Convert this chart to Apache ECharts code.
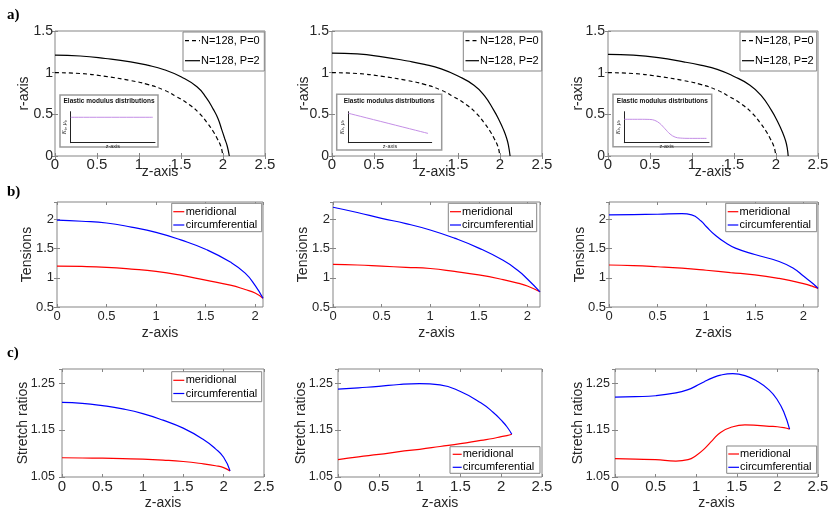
<!DOCTYPE html>
<html><head><meta charset="utf-8">
<script src="https://cdn.jsdelivr.net/npm/echarts@6/dist/echarts.min.js"></script>
<style>html,body{margin:0;padding:0;background:#fff}#c{width:830px;height:516px}</style>
</head><body><div id="c"></div>
<script>
// ---------- data ----------
// Row a: shapes r(z)
const zP0 = [0,0.3,0.6,0.9,1.1,1.3,1.45,1.6,1.72,1.81,1.88,1.93,1.965,1.985,1.997];
const rP0 = [1.0,0.99,0.955,0.905,0.86,0.79,0.71,0.615,0.51,0.40,0.30,0.21,0.14,0.08,0];
const zA1 = [0,0.3,0.6,0.9,1.1,1.3,1.5,1.69,1.8,1.885,1.94,1.984,2.02,2.05,2.075];
const rA1 = [1.21,1.20,1.17,1.13,1.09,1.035,0.95,0.83,0.70,0.56,0.45,0.32,0.21,0.12,0];
const zA2 = [0,0.3,0.6,0.9,1.1,1.3,1.5,1.69,1.81,1.925,1.99,2.044,2.08,2.10,2.12];
const rA2 = [1.235,1.225,1.19,1.14,1.10,1.045,0.96,0.85,0.73,0.55,0.43,0.31,0.21,0.13,0];
const zA3 = [0,0.3,0.6,0.9,1.1,1.3,1.5,1.69,1.82,1.944,2.02,2.083,2.115,2.133,2.145];
const rA3 = [1.22,1.21,1.18,1.13,1.09,1.04,0.955,0.85,0.73,0.55,0.41,0.27,0.18,0.10,0];
// Insets: elastic modulus distributions (normalised)
const inZ1 = [0,0.973];
const inK1 = [0.82,0.82];
const inZ2 = [0,0.956];
const inK2 = [0.95,0.30];
const inZ3 = [0,0.185,0.30,0.36,0.42,0.48,0.54,0.60,0.66,0.77,0.97];
const inK3 = [0.755,0.755,0.75,0.72,0.62,0.45,0.28,0.18,0.15,0.14,0.14];
// Row b: tensions
const zB1 = [0,0.25,0.5,0.75,1.0,1.25,1.5,1.75,1.9,2.0,2.08];
const circB1 = [1.99,1.97,1.94,1.87,1.78,1.65,1.49,1.27,1.08,0.87,0.65];
const merB1 = [1.20,1.195,1.18,1.15,1.11,1.045,0.96,0.875,0.80,0.74,0.65];
const zB2 = [0,0.25,0.5,0.75,1.0,1.25,1.5,1.75,1.9,2.0,2.13];
const circB2 = [2.21,2.12,2.02,1.93,1.82,1.68,1.51,1.30,1.13,0.98,0.76];
const merB2 = [1.23,1.22,1.20,1.18,1.16,1.11,1.05,0.97,0.91,0.86,0.76];
const zB3c = [0,0.25,0.5,0.75,0.85,0.95,1.0,1.1,1.2,1.3,1.5,1.75,1.9,2.0,2.1,2.15];
const circB3 = [2.08,2.085,2.09,2.10,2.08,1.97,1.88,1.72,1.60,1.51,1.40,1.28,1.16,1.03,0.90,0.82];
const zB3m = [0,0.25,0.5,0.75,1.0,1.25,1.5,1.75,1.9,2.0,2.1,2.15];
const merB3 = [1.22,1.21,1.19,1.165,1.13,1.09,1.05,0.99,0.94,0.90,0.85,0.82];
// Row c: stretch ratios
const zC1 = [0,0.25,0.5,0.75,1.0,1.25,1.5,1.75,1.9,2.0,2.08];
const circC1 = [1.209,1.207,1.202,1.195,1.185,1.171,1.154,1.130,1.110,1.092,1.063];
const merC1 = [1.091,1.0905,1.090,1.089,1.088,1.086,1.083,1.078,1.074,1.070,1.063];
const zC2 = [0,0.25,0.5,0.75,1.0,1.25,1.5,1.75,1.9,2.0,2.07,2.13];
const circC2 = [1.237,1.240,1.243,1.247,1.2487,1.246,1.232,1.208,1.188,1.171,1.157,1.141];
const merC2 = [1.087,1.093,1.098,1.104,1.109,1.115,1.121,1.128,1.132,1.136,1.138,1.141];
const zC3 = [0,0.25,0.5,0.75,0.9,1.0,1.1,1.2,1.3,1.45,1.6,1.75,1.9,2.0,2.08,2.15];
const circC3 = [1.220,1.221,1.223,1.229,1.236,1.244,1.253,1.261,1.267,1.270,1.266,1.254,1.235,1.214,1.188,1.152];
const merC3 = [1.089,1.088,1.087,1.084,1.087,1.096,1.11,1.128,1.145,1.157,1.161,1.160,1.158,1.157,1.155,1.152];

const legendA = ['N=128, P=0','N=128, P=2'];
const legendBC = ['meridional','circumferential'];
const yNames = ['r-axis','Tensions','Stretch ratios'];

// ---------- build ----------
const FONT = '"Liberation Sans", Arial, Helvetica, sans-serif';
const TXT = '#262626', AX = '#858585';
const zip = (a,b)=>a.map((v,i)=>[v,b[i]]);
const fmt = v => String(Math.round(v*100)/100);

const panels = [
  {l:55,t:31,w:210,h:125,xmax:2.5,ymin:0,ymax:1.5,yi:0.5,row:0,xf:15,yf:14,xm:1,ym:2,xg:9,yg:24,
   leg:{box:[183,32,81.3,39],line:[185,200],tx:201,ys:[40.7,60.7]},
   series:[[legendA[0],zP0,rP0,'#000','dash'],[legendA[1],zA1,rA1,'#000','solid']]},
  {l:332,t:31,w:210,h:125,xmax:2.5,ymin:0,ymax:1.5,yi:0.5,row:0,xf:15,yf:14,xm:1,ym:3,xg:9,yg:21,
   leg:{box:[463.3,32,78.4,39],line:[465.5,479],tx:480,ys:[40.7,60.7]},
   series:[[legendA[0],zP0,rP0,'#000','dash'],[legendA[1],zA2,rA2,'#000','solid']]},
  {l:608,t:31,w:210,h:125,xmax:2.5,ymin:0,ymax:1.5,yi:0.5,row:0,xf:15,yf:14,xm:1,ym:3,xg:9,yg:22.5,
   leg:{box:[740,32,76.7,39],line:[742,754],tx:755,ys:[40.7,60.7]},
   series:[[legendA[0],zP0,rP0,'#000','dash'],[legendA[1],zA3,rA3,'#000','solid']]},
  {l:57,t:202,w:206,h:105,xmax:2.08,ymin:0.5,ymax:2.3,yi:0.5,row:1,xf:13,yf:13,xm:3,ym:3,xg:19,yg:23,
   leg:{box:[171.7,203.3,90,28.4],line:[173.3,184.3],tx:185.7,ys:[211.7,225]},
   series:[[legendBC[0],zB1,merB1,'#ff0000','solid'],[legendBC[1],zB1,circB1,'#0000ff','solid']]},
  {l:333,t:202,w:207,h:105,xmax:2.13,ymin:0.5,ymax:2.3,yi:0.5,row:1,xf:13,yf:13,xm:3,ym:3,xg:19,yg:23,
   leg:{box:[448.3,203.3,88.4,28.4],line:[450,461],tx:462,ys:[211.7,225]},
   series:[[legendBC[0],zB2,merB2,'#ff0000','solid'],[legendBC[1],zB2,circB2,'#0000ff','solid']]},
  {l:609,t:202,w:209,h:105,xmax:2.15,ymin:0.5,ymax:2.3,yi:0.5,row:1,xf:13,yf:13,xm:3,ym:3,xg:19,yg:22,
   leg:{box:[725.7,203.3,91,28.4],line:[727.7,738.3],tx:739.5,ys:[211.7,225]},
   series:[[legendBC[0],zB3m,merB3,'#ff0000','solid'],[legendBC[1],zB3c,circB3,'#0000ff','solid']]},
  {l:62,t:369,w:202,h:108,xmax:2.5,ymin:1.05,ymax:1.28,yi:0.1,row:2,xf:15,yf:12.5,xm:2,ym:7,xg:19,yg:31.5,
   leg:{box:[171.7,371.7,90,30],line:[173.3,184.3],tx:185.7,ys:[380.3,393.5]},
   series:[[legendBC[0],zC1,merC1,'#ff0000','solid'],[legendBC[1],zC1,circC1,'#0000ff','solid']]},
  {l:338,t:369,w:204,h:108,xmax:2.5,ymin:1.05,ymax:1.28,yi:0.1,row:2,xf:15,yf:12.5,xm:2,ym:5,xg:19,yg:30,
   leg:{box:[450,446.7,90,26.6],line:[452.7,461.7],tx:462.7,ys:[454.3,467.3]},
   series:[[legendBC[0],zC2,merC2,'#ff0000','solid'],[legendBC[1],zC2,circC2,'#0000ff','solid']]},
  {l:615,t:369,w:203,h:108,xmax:2.5,ymin:1.05,ymax:1.28,yi:0.1,row:2,xf:15,yf:12.5,xm:2,ym:5,xg:19,yg:29.7,
   leg:{box:[726.7,446,90,27.3],line:[728.3,739],tx:740,ys:[454,467.3]},
   series:[[legendBC[0],zC3,merC3,'#ff0000','solid'],[legendBC[1],zC3,circC3,'#0000ff','solid']]}
];

const grid=[], xAxis=[], yAxis=[], series=[], graphic=[];
const tick = {show:true,inside:true,length:3,lineStyle:{color:AX,width:1}};

panels.forEach((p,i)=>{
  grid.push({left:p.l,top:p.t,width:p.w,height:p.h,show:true,borderColor:AX,borderWidth:1,
             backgroundColor:'transparent',containLabel:false,outerBoundsMode:'none'});
  const xi = xAxis.length, yi = yAxis.length;
  const yOnTick = Math.abs(((p.ymax - p.ymin)/p.yi) - Math.round((p.ymax - p.ymin)/p.yi)) < 1e-6;
  xAxis.push({gridIndex:i,type:'value',min:0,max:p.xmax,interval:0.5,position:'bottom',
    axisLine:{show:false},axisTick:tick,splitLine:{show:false},
    axisLabel:{fontSize:p.xf,color:TXT,fontFamily:FONT,margin:p.xm,formatter:fmt,
               showMaxLabel:p.xmax===2.5,hideOverlap:false},
    name:'z-axis',nameLocation:'middle',nameGap:p.xg,nameMoveOverlap:false,
    nameTextStyle:{fontSize:14,color:TXT,fontFamily:FONT}});
  xAxis.push({gridIndex:i,type:'value',min:0,max:p.xmax,interval:0.5,position:'top',
    axisLine:{show:false},axisTick:tick,splitLine:{show:false},axisLabel:{show:false}});
  yAxis.push({gridIndex:i,type:'value',min:p.ymin,max:p.ymax,interval:p.yi,position:'left',
    axisLine:{show:false},axisTick:tick,splitLine:{show:false},
    axisLabel:{fontSize:p.yf,color:TXT,fontFamily:FONT,margin:p.ym,showMaxLabel:yOnTick,hideOverlap:false,
               formatter: p.row===2 ? (v=>v.toFixed(2)) : fmt},
    name:yNames[p.row],nameLocation:'middle',nameGap:p.yg,nameMoveOverlap:false,
    nameTextStyle:{fontSize:14,color:TXT,fontFamily:FONT}});
  yAxis.push({gridIndex:i,type:'value',min:p.ymin,max:p.ymax,interval:p.yi,position:'right',
    axisLine:{show:false},axisTick:tick,splitLine:{show:false},axisLabel:{show:false}});
  p.series.forEach(s=>{
    series.push({type:'line',name:s[0],xAxisIndex:xi,yAxisIndex:yi,data:zip(s[1],s[2]),
      symbol:'none',smooth:0.5,z:3,
      lineStyle:{color:s[3],width:1.2,type:s[4]==='dash'?[4,3]:'solid'},
      itemStyle:{color:s[3]}});
  });
  // legend drawn as graphic
  const L = p.leg;
  graphic.push({type:'rect',z:20,shape:{x:L.box[0],y:L.box[1],width:L.box[2],height:L.box[3]},
    style:{fill:'#fff',stroke:AX,lineWidth:1}});
  p.series.forEach((s,k)=>{
    graphic.push({type:'line',z:21,shape:{x1:L.line[0],y1:L.ys[k],x2:L.line[1],y2:L.ys[k]},
      style:{stroke:s[3],lineWidth:1.2,lineDash:s[4]==='dash'?[4,3]:null}});
    graphic.push({type:'text',z:21,x:L.tx,y:L.ys[k],
      style:{text:s[0],fontSize:11,fontFamily:FONT,fill:'#000',verticalAlign:'middle',align:'left'}});
  });
});

// insets
const insets = [
  {box:[60,95,98,52],g:[70.7,111.7,84.3,31],z:inZ1,k:inK1},
  {box:[336.7,94.3,105,55.7],g:[348.3,111.7,83.4,31],z:inZ2,k:inK2},
  {box:[613,94.3,98.7,52.4],g:[624.3,111.7,84.7,31],z:inZ3,k:inK3}
];
insets.forEach(s=>{
  const gi = grid.length;
  grid.push({left:s.g[0],top:s.g[1],width:s.g[2],height:s.g[3],show:false,containLabel:false,outerBoundsMode:'none'});
  const xi = xAxis.length, yi = yAxis.length;
  xAxis.push({gridIndex:gi,type:'value',min:0,max:1,z:8,
    axisLine:{show:true,onZero:false,lineStyle:{color:'#222',width:1}},axisTick:{show:false},
    axisLabel:{show:false},splitLine:{show:false},
    name:'z-axis',nameLocation:'middle',nameGap:1,nameMoveOverlap:false,
    nameTextStyle:{fontSize:5.5,color:TXT,fontFamily:FONT}});
  yAxis.push({gridIndex:gi,type:'value',min:0,max:1,z:8,
    axisLine:{show:true,onZero:false,lineStyle:{color:'#222',width:1}},axisTick:{show:false},
    axisLabel:{show:false},splitLine:{show:false},
    name:'{k|K}{s|b}{k|, μ}{s|b}',nameLocation:'middle',nameGap:3,nameMoveOverlap:false,
    nameTextStyle:{rich:{k:{fontSize:6,fontStyle:'italic',color:TXT,fontFamily:'"Liberation Serif", serif'},
                         s:{fontSize:4,color:TXT,verticalAlign:'bottom',fontFamily:'"Liberation Serif", serif'}}}});
  series.push({type:'line',name:'inset',xAxisIndex:xi,yAxisIndex:yi,data:zip(s.z,s.k),
    symbol:'none',smooth:0.4,z:9,lineStyle:{color:'#c48ee6',width:1}});
  graphic.push({type:'rect',z:1,shape:{x:s.box[0],y:s.box[1],width:s.box[2],height:s.box[3]},
    style:{fill:'#fff',stroke:'#9a9a9a',lineWidth:1.5}});
  graphic.push({type:'text',z:10,x:s.box[0]+s.box[2]/2,y:101.7,
    style:{text:'Elastic modulus distributions',fontSize:6.5,fontWeight:'bold',fontFamily:FONT,
           fill:'#111',align:'center',verticalAlign:'middle'}});
});

// panel labels
[['a)',15],['b)',192],['c)',353]].forEach(l=>{
  graphic.push({type:'text',z:10,x:7,y:l[1],style:{text:l[0],fontSize:15,fontWeight:'bold',
    fontFamily:'"Liberation Serif", "Times New Roman", serif',fill:'#000',verticalAlign:'middle'}});
});

const chart = echarts.init(document.getElementById('c'));
chart.setOption({animation:false,backgroundColor:'#fff',grid,xAxis,yAxis,series,graphic});
</script></body></html>
